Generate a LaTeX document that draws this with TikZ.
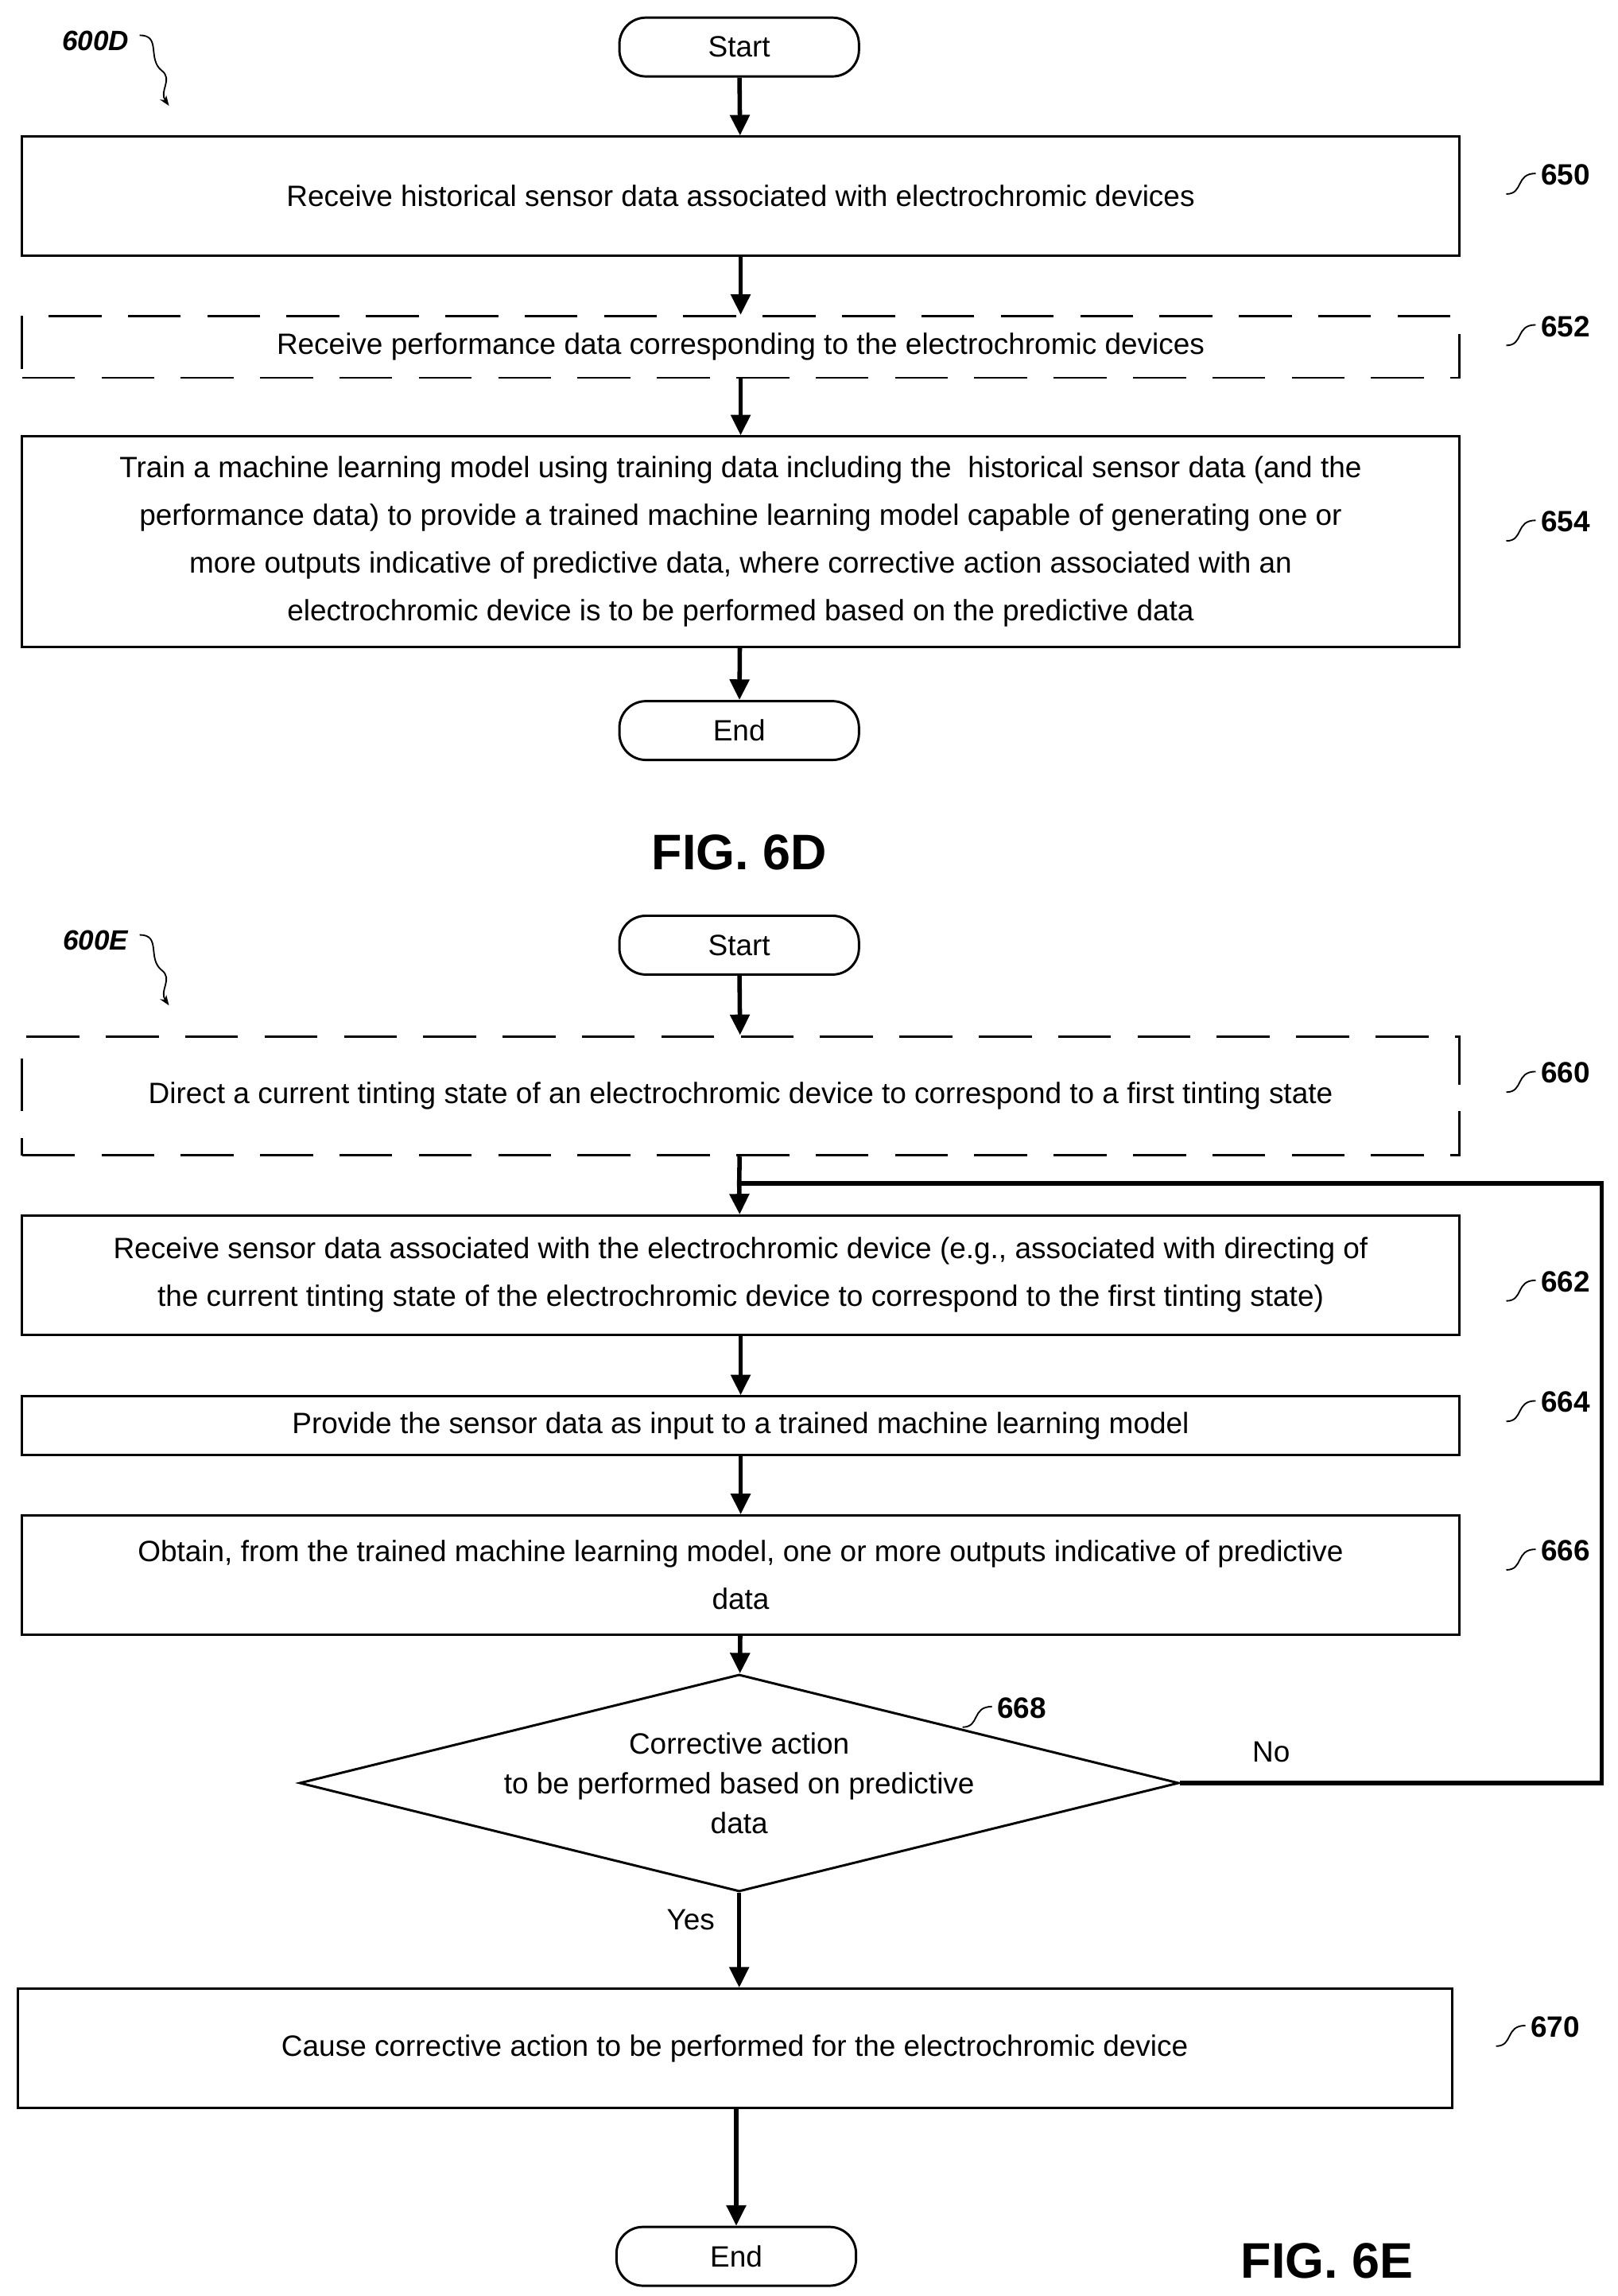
\documentclass[tikz,border=0pt]{standalone}
\usepackage{fontspec}
\setmainfont{Liberation Sans}
\usetikzlibrary{arrows.meta,shapes.geometric}
\begin{document}
\begin{tikzpicture}[x=1pt,y=-1pt,
 box/.style={draw,line width=1.6pt,font=\fontsize{20}{32.5}\selectfont,align=center},
 dbox/.style={box,dash pattern=on 36pt off 18pt},
 term/.style={draw,line width=1.6pt,rounded corners=18pt,minimum width=163pt,minimum height=40pt,font=\fontsize{20}{24}\selectfont},
 arr/.style={line width=3pt,-{Triangle[length=14pt,width=13pt]}},
 lbl/.style={font=\bfseries\fontsize{20}{24}\selectfont,anchor=west},
 sq/.style={line width=1pt},
 fig/.style={font=\bfseries\fontsize{34}{40}\selectfont}]
\useasboundingbox (0,0) rectangle (1101,1562);
\newcommand{\squig}[3]{\draw[sq] (#1,#2) .. controls (#1+12,#2) and (#1+6,#2-14) .. (#1+20,#2-14);\node[lbl] (#3) at (#1+20,#2-13) {#3};}
% 6D
\node[font=\bfseries\itshape\fontsize{19}{22}\selectfont] (l600d) at (65,28) {600D};
\draw[sq,-{Stealth[length=7pt]}] (95,24) .. controls (110,24) and (100,40) .. (110,48) .. controls (118,54) and (108,62) .. (115,72);
\node[term] (s1) at (503,32) {Start};
\node[box,minimum width=978pt,minimum height=81pt] (b650) at (504,133.5) {Receive historical sensor data associated with electrochromic devices};
\node[dbox,minimum width=978pt,minimum height=42pt] (b652) at (504,236) {Receive performance data corresponding to the electrochromic devices};
\node[box,minimum width=978pt,minimum height=143pt] (b654) at (504,368.5) {Train a machine learning model using training data including the\ \ historical sensor data (and the\\performance data) to provide a trained machine learning model capable of generating one or\\more outputs indicative of predictive data, where corrective action associated with an\\electrochromic device is to be performed based on the predictive data};
\node[term] (e1) at (503,497) {End};
\draw[arr] (s1) -- (b650);
\draw[arr] (b650) -- (b652);
\draw[arr] (b652) -- (b654);
\draw[arr] (b654) -- (e1);
\squig{1025}{132}{650}
\squig{1025}{235}{652}
\squig{1025}{368}{654}
\node[fig] (f6d) at (503,580) {FIG. 6D};
% 6E
\node[font=\bfseries\itshape\fontsize{19}{22}\selectfont] (l600e) at (65,640) {600E};
\draw[sq,-{Stealth[length=7pt]}] (95,636) .. controls (110,636) and (100,652) .. (110,660) .. controls (118,666) and (108,674) .. (115,684);
\node[term] (s2) at (503,643) {Start};
\node[dbox,minimum width=978pt,minimum height=81pt] (b660) at (504,745.5) {Direct a current tinting state of an electrochromic device to correspond to a first tinting state};
\node[box,minimum width=978pt,minimum height=81pt] (b662) at (504,867.5) {Receive sensor data associated with the electrochromic device (e.g., associated with directing of\\the current tinting state of the electrochromic device to correspond to the first tinting state)};
\node[box,minimum width=978pt,minimum height=40pt] (b664) at (504,970) {Provide the sensor data as input to a trained machine learning model};
\node[box,minimum width=978pt,minimum height=81pt] (b666) at (504,1071.5) {Obtain, from the trained machine learning model, one or more outputs indicative of predictive\\data};
\node[diamond,draw,line width=1.6pt,aspect=4.05,minimum width=486pt,minimum height=120pt,inner sep=0pt,align=center,font=\fontsize{20}{27}\selectfont] (d668) at (503,1213) {Corrective action\\to be performed based on predictive\\data};
\node[box,minimum width=976pt,minimum height=81pt] (b670) at (500,1393.5) {Cause corrective action to be performed for the electrochromic device};
\node[term] (e2) at (501,1535) {End};
\coordinate (j) at (503,805);
\coordinate (c1) at (1090,1213);
\coordinate (c2) at (1090,805);
\draw[arr] (s2) -- (b660);
\draw[line width=3pt] (b660) -- (j);
\draw[arr] (j) -- (b662);
\draw[arr] (b662) -- (b664);
\draw[arr] (b664) -- (b666);
\draw[arr] (b666) -- (d668);
\draw[line width=3pt] (d668.east) -- (c1) -- (c2) -- (j);
\node[font=\fontsize{20}{24}\selectfont] (no) at (865,1192) {No};
\draw[arr] (d668.south) -- (d668.south |- b670.north);
\node[font=\fontsize{20}{24}\selectfont] (yes) at (470,1306) {Yes};
\draw[arr] (b670.south -| e2) -- (e2);
\squig{1025}{743}{660}
\squig{1025}{885}{662}
\squig{1025}{967}{664}
\squig{1025}{1068}{666}
\squig{655}{1175}{668}
\squig{1018}{1392}{670}
\node[fig] (f6e) at (903,1538) {FIG. 6E};
\end{tikzpicture}
\end{document}
